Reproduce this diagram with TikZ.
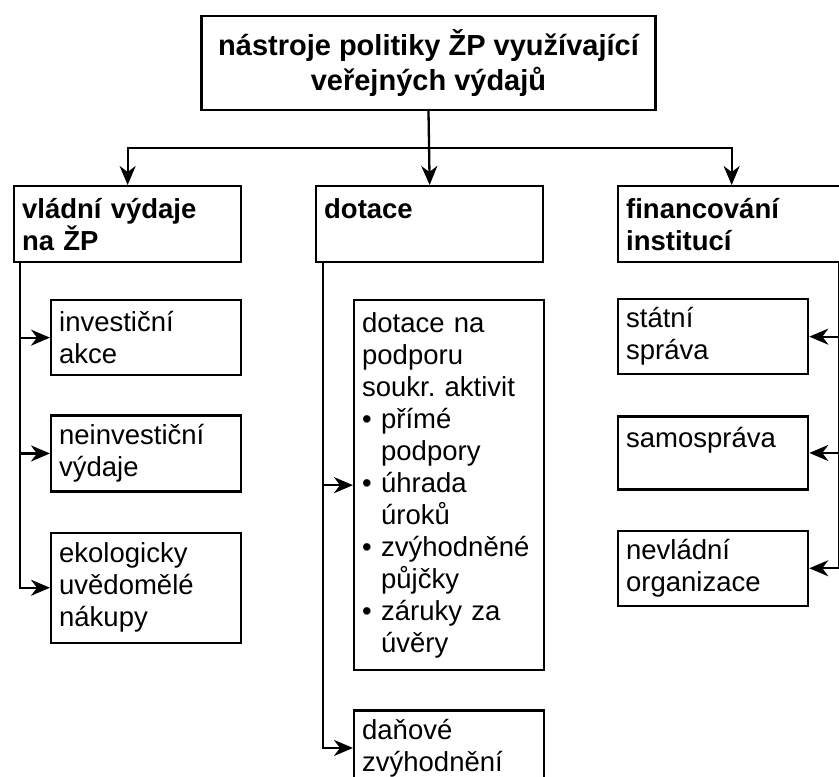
\documentclass[tikz,border=0pt]{standalone}
\usepackage{fontspec}
\setmainfont{Liberation Sans}
\usetikzlibrary{arrows.meta,positioning}
\newcommand{\itembul}{\makebox[19pt][l]{\textbullet}}
\newcommand{\itemind}{\hspace*{19pt}}

\begin{document}
\begin{tikzpicture}[x=1pt,y=-1pt,line width=2.3pt,
  box/.style={draw,anchor=north west,align=left,inner xsep=8pt,inner ysep=4pt,text width=#1,font=\fontsize{27.5}{32}\selectfont},
  head/.style={box=211pt,minimum height=76pt,font=\fontsize{27.5}{32}\selectfont\bfseries},
  leaf/.style={box=174pt,minimum height=#1},
  arr/.style={-{Stealth[length=19pt,width=16pt,inset=6pt]}}
]
  \useasboundingbox (0,0) rectangle (839,777);

  \node[draw,align=center,minimum width=454pt,minimum height=94pt,font=\fontsize{29}{35}\selectfont\bfseries] (root) at (428.5,63) {nástroje politiky ŽP využívající\\veřejných výdajů};

  \node[head] (gov) at (13,185) {vládní výdaje\\na ŽP};
  \node[head] (sub) at (315,185) {dotace\\\mbox{}};
  \node[head] (inst) at (617,185) {financování\\institucí};

  \node[leaf=75pt] (inv) at (50,299) {investiční\\akce};
  \node[leaf=76pt, below=38pt of inv] (neinv) {neinvestiční\\výdaje};
  \node[leaf=110pt, below=39pt of neinv] (eko) {ekologicky\\uvědomělé\\nákupy};

  \node[leaf=370pt] (aid) at (353,299) {dotace na\\podporu\\soukr.\ aktivit\\\itembul přímé\\\itemind podpory\\\itembul úhrada\\\itemind úroků\\\itembul zvýhodněné\\\itemind půjčky\\\itembul záruky za\\\itemind úvěry};
  \node[leaf=75pt, below=38pt of aid] (tax) {daňové\\zvýhodnění};

  \node[leaf=75pt] (state) at (617,298) {státní\\správa};
  \node[leaf=73pt, below=40pt of state] (self) {samospráva\\\mbox{}};
  \node[leaf=75pt, below=39pt of self] (ngo) {nevládní\\organizace};

  \coordinate (bus) at (428.5,148);
  \draw[arr] (root.south) -- (sub.north);
  \draw[arr] (bus) -| (gov.north);
  \draw[arr] (bus) -| (inst.north);

  \foreach \c in {inv,neinv,eko}
    \draw[arr] ([xshift=7pt]gov.south west) |- (\c.west);
  \foreach \c in {aid,tax}
    \draw[arr] ([xshift=8pt]sub.south west) |- (\c.west);
  \foreach \c in {state,self,ngo}
    \draw[arr] ([xshift=-7pt]inst.south east) |- (\c.east);
\end{tikzpicture}
\end{document}
